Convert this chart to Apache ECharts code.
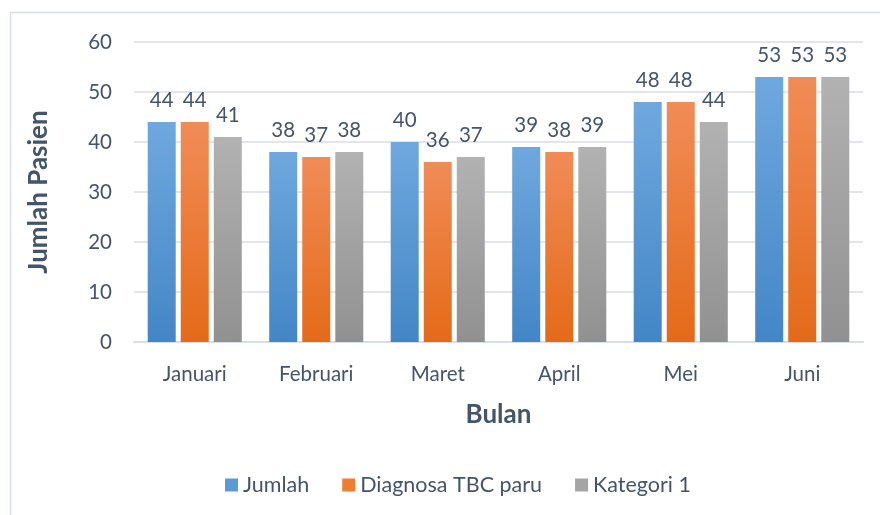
<!DOCTYPE html>
<html><head><meta charset="utf-8">
<script src="https://cdn.jsdelivr.net/npm/echarts@6/dist/echarts.min.js"></script>
<style>html,body{margin:0;padding:0;background:#fff}#c{width:880px;height:515px}</style>
</head><body><div id="c"></div>
<script>
const categories = ['Januari','Februari','Maret','April','Mei','Juni'];
const jumlah = [44,38,40,39,48,53];
const diagnosa = [44,37,36,38,48,53];
const kategori1 = [41,38,37,39,44,53];
const yTicks = [0,10,20,30,40,50,60];

const FONT = 'Lato';
const TXT = '#44546A';
function grad(top,bottom){return new echarts.graphic.LinearGradient(0,0,0,1,[{offset:0,color:top},{offset:1,color:bottom}]);}
function series(name,data,top,bottom){
  return {name,type:'bar',data,barWidth:28,barGap:'18%',
    itemStyle:{color:grad(top,bottom)},
    label:{show:true,position:'top',distance:11,color:TXT,fontFamily:FONT,fontSize:20.5},
  };
}
const chart = echarts.init(document.getElementById('c'),null,{renderer:'canvas'});
chart.setOption({
  animation:false,
  backgroundColor:'#fff',
  graphic:[{type:'rect',shape:{x:10.5,y:12.5,width:1000,height:1000},style:{fill:'none',stroke:'#D9DEE6',lineWidth:1.5},silent:true,z:-1}],
  grid:{left:134,right:17,top:42,bottom:173},
  legend:{bottom:14,left:220,itemWidth:13,itemHeight:13,itemGap:33,icon:'rect',
    textStyle:{color:TXT,fontFamily:FONT,fontSize:21.5},
    data:[{name:'Jumlah',itemStyle:{color:'#5B9BD5'}},{name:'Diagnosa TBC paru',itemStyle:{color:'#ED7D31'}},{name:'Kategori 1',itemStyle:{color:'#A5A5A5'}}]},
  xAxis:{type:'category',data:categories,
    name:'Bulan',nameLocation:'middle',nameGap:60,
    nameTextStyle:{color:TXT,fontFamily:FONT,fontSize:26,fontWeight:'bold'},
    axisLine:{lineStyle:{color:'#D9DEE6',width:2}},axisTick:{show:false},
    axisLabel:{color:TXT,fontFamily:FONT,fontSize:20.5,margin:22}},
  yAxis:{type:'value',min:yTicks[0],max:yTicks[yTicks.length-1],interval:10,
    name:'Jumlah Pasien',nameLocation:'middle',nameGap:82,
    nameTextStyle:{color:TXT,fontFamily:FONT,fontSize:26,fontWeight:'bold'},
    axisLine:{show:false},axisTick:{show:false},
    axisLabel:{color:TXT,fontFamily:FONT,fontSize:20.5,margin:22},
    splitLine:{lineStyle:{color:'#D9DEE6',width:1.5}}},
  series:[
    series('Jumlah',jumlah,'#6FA8DE','#4386C6'),
    series('Diagnosa TBC paru',diagnosa,'#F18C57','#E46A18'),
    series('Kategori 1',kategori1,'#B2B2B2','#919191')
  ]
});
</script></body></html>
